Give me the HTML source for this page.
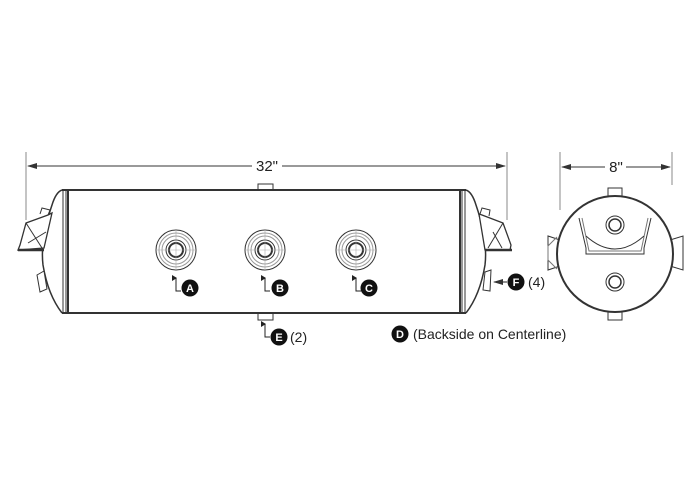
<!DOCTYPE html>
<html><head><style>
html,body{margin:0;padding:0;background:#fff;width:700px;height:496px;overflow:hidden}
svg{display:block}
text{font-family:"Liberation Sans",sans-serif;fill:#222}
</style></head><body>
<svg width="700" height="496" viewBox="0 0 700 496" xmlns="http://www.w3.org/2000/svg">
<defs>
<marker id="ar" markerWidth="10" markerHeight="8" refX="9" refY="4" orient="auto" markerUnits="userSpaceOnUse"><path d="M0,1 L10,4 L0,7 Z" fill="#333"/></marker>
<marker id="sa" markerWidth="6" markerHeight="6" refX="3" refY="1" orient="auto" markerUnits="userSpaceOnUse"><path d="M0,5 L3,0 L6,5 Z" fill="#222"/></marker>
</defs>
<g stroke="#333" fill="none" stroke-width="1">
<line x1="26" y1="152" x2="26" y2="220" stroke="#888"/>
<line x1="507" y1="152" x2="507" y2="220" stroke="#888"/>
<line x1="252" y1="166" x2="28" y2="166" marker-end="url(#ar)"/>
<line x1="282" y1="166" x2="505" y2="166" marker-end="url(#ar)"/>
<rect x="68" y="190" width="392" height="123" stroke-width="2"/>
<line x1="62" y1="190" x2="68" y2="190" stroke-width="2"/>
<line x1="62" y1="313" x2="68" y2="313" stroke-width="2"/>
<line x1="460" y1="190" x2="466" y2="190" stroke-width="2"/>
<line x1="460" y1="313" x2="466" y2="313" stroke-width="2"/>
<line x1="63" y1="190" x2="63" y2="313"/><line x1="66" y1="190" x2="66" y2="313"/>
<line x1="462" y1="190" x2="462" y2="313"/><line x1="465" y1="190" x2="465" y2="313"/>
<path d="M62,190 Q56,192 52,205 Q40,240 43,265 Q48,295 62,313" stroke-width="1.5"/>
<path d="M26,223 L48,215 L52,213 L44,248 L18,250 L20,245 Z" stroke-width="1.3" fill="#fff"/>
<line x1="18" y1="250" x2="44" y2="250" stroke-width="2.5"/>
<line x1="26" y1="223" x2="42" y2="248"/><line x1="28" y1="243" x2="46" y2="232"/>
<path d="M40,214 L42,208 L50,210 L48,215"/>
<path d="M37,275 L44,271 L47,289 L40,292 Z" fill="#fff"/>
<path d="M466,190 Q472,192 476,205 Q488,240 485,265 Q480,295 466,313" stroke-width="1.5"/>
<path d="M482,215 L503,223 L511,245 L510,250 L485,250 L479,214 Z" stroke-width="1.3" fill="#fff"/>
<line x1="485" y1="250" x2="512" y2="250" stroke-width="2.5"/>
<line x1="503" y1="223" x2="488" y2="248"/><line x1="493" y1="232" x2="502" y2="248"/>
<path d="M480,214 L482,208 L490,210 L489,216"/>
<path d="M485,272 L491,270 L490,291 L483,290 Z" fill="#fff"/>
<rect x="258" y="184" width="15" height="6"/>
<rect x="258" y="313" width="15" height="7"/>
<g id="p">
<circle cx="176" cy="250" r="20"/><circle cx="176" cy="250" r="17" stroke="#999"/><circle cx="176" cy="250" r="14" stroke="#999"/>
<circle cx="176" cy="250" r="10"/><circle cx="176" cy="250" r="7" stroke-width="2"/>
<line x1="156" y1="250" x2="196" y2="250" stroke="#aaa" stroke-width=".6"/>
<line x1="176" y1="230" x2="176" y2="270" stroke="#aaa" stroke-width=".6"/>
</g>
<use href="#p" x="89"/><use href="#p" x="180"/>
<path d="M176,278 L176,291 L181,291" stroke="#222" marker-start="url(#sa)"/>
<path d="M265,278 L265,291 L270,291" stroke="#222" marker-start="url(#sa)"/>
<path d="M356,278 L356,291 L361,291" stroke="#222" marker-start="url(#sa)"/>
<path d="M265,324 L265,337 L270,337" stroke="#222" marker-start="url(#sa)"/>
<line x1="507" y1="282" x2="494" y2="282" stroke="#222" marker-end="url(#ar)" />
<!-- side view -->
<line x1="560" y1="152" x2="560" y2="210" stroke="#888"/>
<line x1="672" y1="152" x2="672" y2="185" stroke="#888"/>
<line x1="605" y1="167" x2="562" y2="167" marker-end="url(#ar)"/>
<line x1="626" y1="167" x2="670" y2="167" marker-end="url(#ar)"/>
<rect x="608" y="188" width="14" height="8"/>
<rect x="608" y="312" width="14" height="8"/>
<path d="M560,240 L548,236 L548,270 L560,266" fill="#fff"/>
<path d="M557,237 L548,246 L548,260 L557,269" stroke="#777"/>
<path d="M670,240 L683,236 L683,270 L670,266" fill="#fff"/>
<circle cx="615" cy="254" r="58" stroke-width="2" fill="#fff"/>
<path d="M579,218 L586,248 L586,254 L644,254 L644,248 L651,218" />
<path d="M582,218 L589,251 L641,251 L648,218" stroke="#777"/>
<path d="M586,236 Q615,262 644,236"/>
<circle cx="615" cy="225" r="9"/><circle cx="615" cy="225" r="6" stroke-width="1.5"/>
<circle cx="615" cy="282" r="9"/><circle cx="615" cy="282" r="6" stroke-width="1.5"/>
</g>
<g font-size="15">
<text x="267" y="171" text-anchor="middle">32"</text>
<text x="616" y="172" text-anchor="middle">8"</text>
</g>
<g fill="#111">
<circle cx="190" cy="288" r="8.5"/><circle cx="280" cy="288" r="8.5"/><circle cx="369" cy="288" r="8.5"/>
<circle cx="279" cy="337" r="8.5"/><circle cx="516" cy="282" r="8.5"/><circle cx="400" cy="334" r="8.5"/>
</g>
<g font-size="11" font-weight="bold" text-anchor="middle">
<text x="190" y="292" style="fill:#fff">A</text><text x="280" y="292" style="fill:#fff">B</text><text x="369" y="292" style="fill:#fff">C</text>
<text x="279" y="341" style="fill:#fff">E</text><text x="516" y="286" style="fill:#fff">F</text><text x="400" y="338" style="fill:#fff">D</text>
</g>
<g font-size="14">
<text x="290" y="342">(2)</text>
<text x="528" y="287">(4)</text>
<text x="413" y="339">(Backside on Centerline)</text>
</g>
</svg>
</body></html>
